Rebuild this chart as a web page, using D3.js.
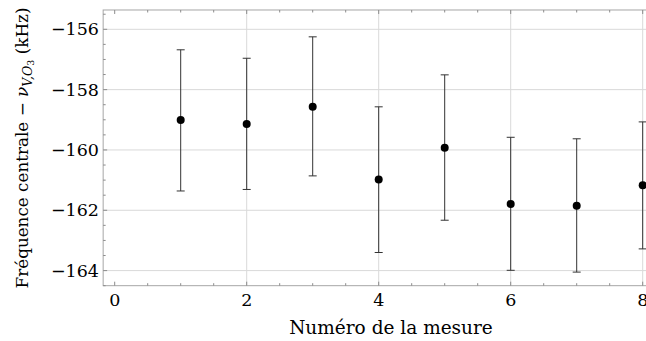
<!DOCTYPE html>
<html><head><meta charset="utf-8">
<script src="https://cdn.jsdelivr.net/npm/d3@7"></script>
<style>body{margin:0;background:#fff}svg{display:block}text{font-family:"DejaVu Serif","Liberation Serif","Times New Roman",serif;fill:#000}</style>
</head><body>
<svg id="c" width="646" height="341"></svg>
<script>
const measures = [1,2,3,4,5,6,7,8];
const centers = [-159.01,-159.14,-158.57,-160.98,-159.93,-161.79,-161.85,-161.17];
const upper = [-156.68,-156.96,-156.25,-158.57,-157.51,-159.58,-159.63,-159.07];
const lower = [-161.36,-161.31,-160.86,-163.40,-162.33,-163.99,-164.05,-163.28];
const xTicks = [0,2,4,6,8];
const yTicks = [-156,-158,-160,-162,-164];

const svg = d3.select("#c");
const x = d3.scaleLinear().domain([0,8]).range([114.7,642.7]);
const y = d3.scaleLinear().domain([-156,-164]).range([29.3,270.6]);
const L = x(-0.175), T = y(-155.36), B = y(-164.5), R = 700;

const xMinor = d3.range(0, 8.01, 0.5);
const yMinor = d3.range(-164.5, -155.4, 0.5);

// grid
svg.append("g").selectAll("line").data(yTicks).join("line")
  .attr("x1",L).attr("x2",R).attr("y1",d=>y(d)).attr("y2",d=>y(d))
  .attr("stroke","#d9d9d9").attr("stroke-width",1);
svg.append("g").selectAll("line").data(xTicks.filter(d=>d>0)).join("line")
  .attr("x1",d=>x(d)).attr("x2",d=>x(d)).attr("y1",T).attr("y2",B)
  .attr("stroke","#d9d9d9").attr("stroke-width",1);

// frame
svg.append("rect").attr("x",L).attr("y",T).attr("width",R-L).attr("height",B-T)
  .attr("fill","none").attr("stroke","#a6a6a6").attr("stroke-width",1);

// ticks
const tk = svg.append("g").attr("stroke","#8c8c8c").attr("stroke-width",1);
xMinor.forEach(d=>{
  const big = d%2===0 ? 4 : 2.5;
  tk.append("line").attr("x1",x(d)).attr("x2",x(d)).attr("y1",B).attr("y2",B-big);
  tk.append("line").attr("x1",x(d)).attr("x2",x(d)).attr("y1",T).attr("y2",T+big);
});
yMinor.forEach(d=>{
  const big = Math.abs(d%2)===0 ? 4 : 2.5;
  tk.append("line").attr("x1",L).attr("x2",L+big).attr("y1",y(d)).attr("y2",y(d));
});

const FS = 17.5;
// tick labels
svg.append("g").selectAll("text").data(xTicks).join("text")
  .attr("x",d=>x(d)).attr("y",306).attr("text-anchor","middle")
  .attr("font-size",FS).text(d=>d);
svg.append("g").selectAll("text").data(yTicks).join("text")
  .attr("x",99).attr("y",d=>y(d)+6).attr("text-anchor","end")
  .attr("font-size",FS).text(d=>"\u2212"+Math.abs(d));

// axis titles
svg.append("text").attr("x",391).attr("y",334).attr("text-anchor","middle")
  .attr("font-size",18.5).text("Numéro de la mesure");
const yt = svg.append("text").attr("transform","translate(28,148) rotate(-90)")
  .attr("text-anchor","middle").attr("font-size",16.8);
yt.append("tspan").text("Fréquence centrale \u2212 ");
yt.append("tspan").attr("font-style","italic").text("\u03BD");
yt.append("tspan").attr("font-style","italic").attr("font-size",12.5).attr("dy",4).text("V,O");
yt.append("tspan").attr("font-size",9.5).attr("dy",2).text("3");
yt.append("tspan").attr("dy",-6).text(" (kHz)");

// error bars
const eb = svg.append("g").attr("stroke","#333").attr("stroke-width",1);
measures.forEach((m,i)=>{
  eb.append("line").attr("x1",x(m)).attr("x2",x(m)).attr("y1",y(upper[i])).attr("y2",y(lower[i]));
  eb.append("line").attr("x1",x(m)-4).attr("x2",x(m)+4).attr("y1",y(upper[i])).attr("y2",y(upper[i]));
  eb.append("line").attr("x1",x(m)-4).attr("x2",x(m)+4).attr("y1",y(lower[i])).attr("y2",y(lower[i]));
});
svg.append("g").selectAll("circle").data(measures).join("circle")
  .attr("cx",d=>x(d)).attr("cy",(d,i)=>y(centers[i])).attr("r",4).attr("fill","#000");
</script>
</body></html>
